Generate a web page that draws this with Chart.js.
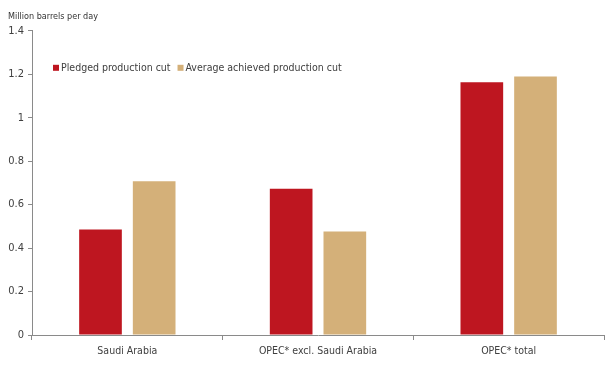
<!DOCTYPE html>
<html>
<head>
<meta charset="utf-8">
<script src="https://cdn.jsdelivr.net/npm/chart.js@4"></script>
<style>
  html, body { margin: 0; padding: 0; background: #fff; }
  #wrap { width: 614px; height: 367px; }
</style>
</head>
<body>
<div id="wrap"><canvas id="cutChart"></canvas></div>
<script>
const categories = ['Saudi Arabia', 'OPEC* excl. Saudi Arabia', 'OPEC* total'];
const pledged = [0.485, 0.673, 1.163];
const achieved = [0.708, 0.476, 1.19];
const seriesNames = ['Pledged production cut', 'Average achieved production cut'];
const yTicks = [0, 0.2, 0.4, 0.6, 0.8, 1, 1.2, 1.4];

const FONT = "'Liberation Sans Narrow', 'Arial Narrow', 'DejaVu Sans Condensed', sans-serif";
const AXIS = '#8a8a8a';
const TEXT = '#404040';

// legend drawn inside the plot area, top-left
const insideLegend = {
    id: 'insideLegend',
    afterDraw(chart) {
        const ctx = chart.ctx;
        const area = chart.chartArea;
        let x = area.left + 21;
        const y = area.top + 37;
        ctx.save();
        ctx.font = '10.5px ' + FONT;
        ctx.textBaseline = 'middle';
        chart.data.datasets.forEach(ds => {
            ctx.fillStyle = ds.backgroundColor;
            ctx.fillRect(x, y - 3, 6, 6);
            ctx.fillStyle = TEXT;
            ctx.fillText(ds.label, x + 8, y);
            x += 8 + ctx.measureText(ds.label).width + 7;
        });
        ctx.restore();
    }
};

const ctx = document.getElementById('cutChart').getContext('2d');

const cutChart = new Chart(ctx, {
    type: 'bar',
    data: {
        labels: categories,
        datasets: [{
            label: seriesNames[0],
            data: pledged,
            backgroundColor: '#BE1620',
            categoryPercentage: 0.563,
            barPercentage: 0.795
        }, {
            label: seriesNames[1],
            data: achieved,
            backgroundColor: '#D4B079',
            categoryPercentage: 0.563,
            barPercentage: 0.795
        }]
    },
    options: {
        responsive: true,
        maintainAspectRatio: false,
        animation: false,
        layout: {
            padding: { left: 8, right: 10, top: 0, bottom: 0 }
        },
        scales: {
            y: {
                min: 0,
                max: 1.4,
                afterBuildTicks: scale => {
                    scale.ticks = yTicks.map(v => ({ value: v }));
                },
                afterFit: scale => { scale.width = 24; },
                ticks: {
                    color: TEXT,
                    font: { family: FONT, size: 11 },
                    padding: 4,
                    callback: v => String(Math.round(v * 10) / 10)
                },
                grid: {
                    drawOnChartArea: false,
                    drawTicks: true,
                    tickLength: 4,
                    tickColor: AXIS
                },
                border: { display: true, color: AXIS, width: 1 }
            },
            x: {
                afterFit: scale => { scale.height = 32; },
                ticks: {
                    color: TEXT,
                    font: { family: FONT, size: 10.5 },
                    padding: 5,
                    maxRotation: 0
                },
                grid: {
                    offset: true,
                    drawOnChartArea: false,
                    drawTicks: true,
                    tickLength: 5,
                    tickColor: AXIS
                },
                border: { display: true, color: AXIS, width: 1 }
            }
        },
        plugins: {
            legend: { display: false },
            tooltip: { enabled: false },
            title: {
                display: true,
                text: 'Million barrels per day',
                align: 'start',
                color: '#333333',
                font: { family: FONT, size: 9, weight: 'normal' },
                padding: { top: 11, bottom: 9 }
            }
        }
    },
    plugins: [insideLegend]
});
</script>
</body>
</html>
